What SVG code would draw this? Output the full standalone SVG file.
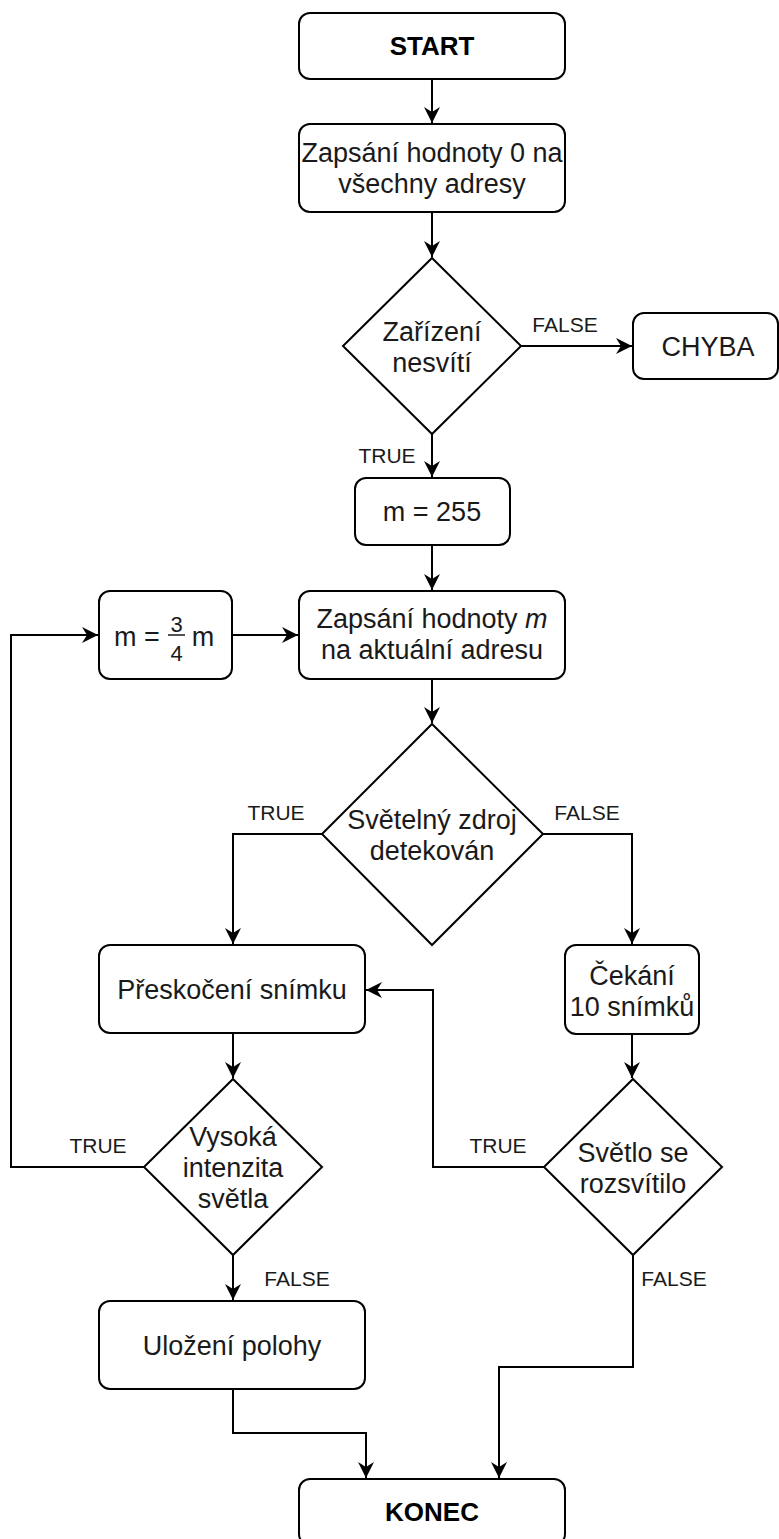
<svg xmlns="http://www.w3.org/2000/svg" width="779" height="1539" viewBox="0 0 779 1539">
  <style>
    .node { fill: #ffffff; stroke: #000000; stroke-width: 2; }
    .edge { fill: none; stroke: #000000; stroke-width: 2; marker-end: url(#arrow); }
    .tx { font-family: "Liberation Sans", Arial, sans-serif; font-size: 27px; fill: #1a1a1a; text-anchor: middle; }
    .b { font-weight: bold; fill: #000000; font-size: 26px; }
    .lbl { font-family: "Liberation Sans", Arial, sans-serif; font-size: 21px; fill: #1a1a1a; text-anchor: middle; }
    .frac { font-family: "Liberation Sans", Arial, sans-serif; font-size: 22px; fill: #1a1a1a; text-anchor: middle; }
  </style>
  <defs>
    <marker id="arrow" markerUnits="userSpaceOnUse" markerWidth="20" markerHeight="20" viewBox="-18 -10 20 20" refX="0" refY="0" orient="auto">
      <path d="M0,0 L-16,-8 L-11,0 L-16,8 Z" fill="#000000"/>
    </marker>
  </defs>
  <rect width="779" height="1539" fill="#ffffff"/>

  <!-- connectors -->
  <g id="connectors">
    <path class="edge" d="M432,79 L432,123"/>
    <path class="edge" d="M432,212 L432,257"/>
    <path class="edge" d="M521,346 L632,346"/>
    <path class="edge" d="M432,434 L432,477"/>
    <path class="edge" d="M432,545 L432,590"/>
    <path class="edge" d="M232,635 L298,635"/>
    <path class="edge" d="M432,679 L432,723"/>
    <path class="edge" d="M322,834 L233,834 L233,944"/>
    <path class="edge" d="M543,834 L632,834 L632,944"/>
    <path class="edge" d="M233,1033 L233,1078"/>
    <path class="edge" d="M632,1034 L632,1078"/>
    <path class="edge" d="M144,1167 L11,1167 L11,635 L98,635"/>
    <path class="edge" d="M544,1167 L433,1167 L433,990 L366,990"/>
    <path class="edge" d="M233,1255 L233,1300"/>
    <path class="edge" d="M633,1255 L633,1367 L499,1367 L499,1478"/>
    <path class="edge" d="M233,1389 L233,1433 L366,1433 L366,1478"/>
  </g>

  <!-- edge labels -->
  <g id="edge-labels">
    <text class="lbl" x="565" y="332">FALSE</text>
    <text class="lbl" x="387" y="463">TRUE</text>
    <text class="lbl" x="276" y="820">TRUE</text>
    <text class="lbl" x="587" y="820">FALSE</text>
    <text class="lbl" x="98" y="1153">TRUE</text>
    <text class="lbl" x="498" y="1153">TRUE</text>
    <text class="lbl" x="297" y="1286">FALSE</text>
    <text class="lbl" x="674" y="1286">FALSE</text>
  </g>

  <g id="start">
    <rect class="node" x="299" y="13" width="266" height="66" rx="11"/>
    <text class="tx b" x="432" y="55">START</text>
  </g>

  <g id="clear-all">
    <rect class="node" x="299" y="124" width="266" height="88" rx="11"/>
    <text class="tx" x="432" y="162">Zapsání hodnoty 0 na</text>
    <text class="tx" x="432" y="193">všechny adresy</text>
  </g>

  <g id="device-dark">
    <polygon class="node" points="432,258 521,346 432,434 343,346"/>
    <text class="tx" x="432" y="341">Zařízení</text>
    <text class="tx" x="432" y="372">nesvítí</text>
  </g>

  <g id="error">
    <rect class="node" x="633" y="313" width="145" height="66" rx="11"/>
    <text class="tx" x="708" y="356">CHYBA</text>
  </g>

  <g id="init-m">
    <rect class="node" x="355" y="478" width="155" height="67" rx="11"/>
    <text class="tx" x="432" y="521">m = 255</text>
  </g>

  <g id="scale-m">
    <rect class="node" x="99" y="591" width="133" height="88" rx="11"/>
    <text class="tx" x="137" y="646">m =</text>
    <text class="frac" x="176.5" y="632">3</text>
    <line x1="168" y1="635" x2="185" y2="635" stroke="#1a1a1a" stroke-width="1.5"/>
    <text class="frac" x="176.5" y="661">4</text>
    <text class="tx" x="203" y="646">m</text>
  </g>

  <g id="write-m">
    <rect class="node" x="299" y="591" width="266" height="88" rx="11"/>
    <text class="tx" x="432" y="628">Zapsání hodnoty <tspan font-style="italic">m</tspan></text>
    <text class="tx" x="432" y="659">na aktuální adresu</text>
  </g>

  <g id="source-detected">
    <polygon class="node" points="432,724 543,834 432,945 322,834"/>
    <text class="tx" x="432" y="829">Světelný zdroj</text>
    <text class="tx" x="432" y="860">detekován</text>
  </g>

  <g id="skip-frame">
    <rect class="node" x="99" y="945" width="266" height="88" rx="11"/>
    <text class="tx" x="232" y="999">Přeskočení snímku</text>
  </g>

  <g id="wait-frames">
    <rect class="node" x="565" y="945" width="134" height="89" rx="11"/>
    <text class="tx" x="632" y="985">Čekání</text>
    <text class="tx" x="632" y="1016">10 snímků</text>
  </g>

  <g id="high-intensity">
    <polygon class="node" points="233,1079 322,1167 233,1255 144,1167"/>
    <text class="tx" x="233" y="1146">Vysoká</text>
    <text class="tx" x="233" y="1177">intenzita</text>
    <text class="tx" x="233" y="1208">světla</text>
  </g>

  <g id="light-on">
    <polygon class="node" points="633,1079 722,1167 633,1255 544,1167"/>
    <text class="tx" x="633" y="1162">Světlo se</text>
    <text class="tx" x="633" y="1193">rozsvítilo</text>
  </g>

  <g id="save-position">
    <rect class="node" x="99" y="1301" width="266" height="88" rx="11"/>
    <text class="tx" x="232" y="1355">Uložení polohy</text>
  </g>

  <g id="end">
    <rect class="node" x="299" y="1479" width="266" height="66" rx="11"/>
    <text class="tx b" x="432" y="1521">KONEC</text>
  </g>
</svg>
